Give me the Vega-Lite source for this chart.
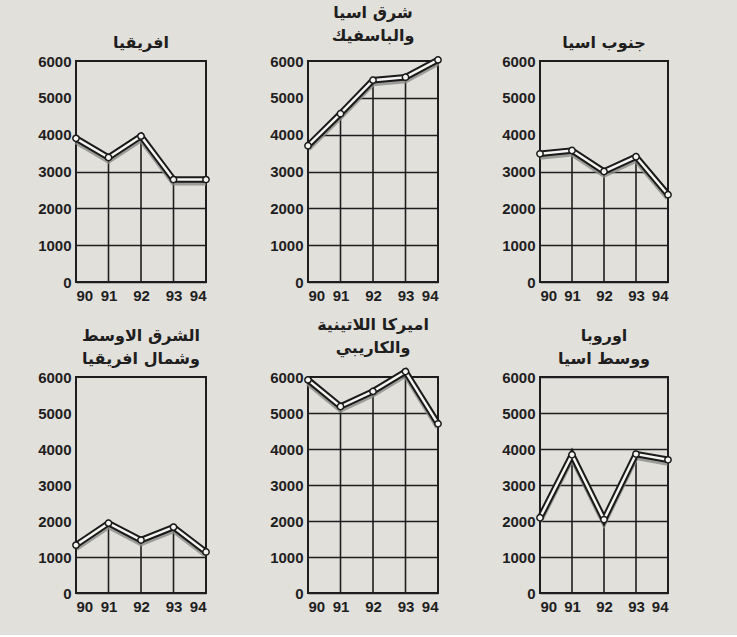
{
  "$schema": "https://vega.github.io/schema/vega-lite/v6.json",
  "background": "#e2e0db",
  "padding": {"left": 37, "top": 4, "right": 58, "bottom": 21},
  "config": {
    "view": {"stroke": null},
    "font": "Liberation Sans",
    "axis": {"labelFont": "Liberation Sans", "labelFontSize": 15, "labelFontWeight": "bold", "labelColor": "#1e1e1e", "ticks": false, "domain": false, "title": null},
    "title": {"font": "DejaVu Sans", "fontSize": 16, "fontWeight": "bold", "color": "#1e1e1e", "anchor": "middle", "offset": 3, "lineHeight": 23}
  },
  "datasets": {
    "d": [
      {"region": "africa", "year": 90, "value": 3900},
      {"region": "africa", "year": 91, "value": 3380},
      {"region": "africa", "year": 92, "value": 3960},
      {"region": "africa", "year": 93, "value": 2780},
      {"region": "africa", "year": 94, "value": 2780},
      {"region": "eap", "year": 90, "value": 3700},
      {"region": "eap", "year": 91, "value": 4570},
      {"region": "eap", "year": 92, "value": 5480},
      {"region": "eap", "year": 93, "value": 5560},
      {"region": "eap", "year": 94, "value": 6030},
      {"region": "sa", "year": 90, "value": 3480},
      {"region": "sa", "year": 91, "value": 3570},
      {"region": "sa", "year": 92, "value": 3000},
      {"region": "sa", "year": 93, "value": 3400},
      {"region": "sa", "year": 94, "value": 2370},
      {"region": "mena", "year": 90, "value": 1330},
      {"region": "mena", "year": 91, "value": 1940},
      {"region": "mena", "year": 92, "value": 1470},
      {"region": "mena", "year": 93, "value": 1830},
      {"region": "mena", "year": 94, "value": 1140},
      {"region": "lac", "year": 90, "value": 5920},
      {"region": "lac", "year": 91, "value": 5180},
      {"region": "lac", "year": 92, "value": 5600},
      {"region": "lac", "year": 93, "value": 6150},
      {"region": "lac", "year": 94, "value": 4700},
      {"region": "eca", "year": 90, "value": 2090},
      {"region": "eca", "year": 91, "value": 3840},
      {"region": "eca", "year": 92, "value": 2040},
      {"region": "eca", "year": 93, "value": 3860},
      {"region": "eca", "year": 94, "value": 3700}
    ]
  },
  "columns": 3,
  "bounds": "flush",
  "spacing": {"row": 95, "column": 102},
  "concat": [
    {
      "title": {"text": "افريقيا"},
      "width": 130, "height": 221,
      "data": {"name": "d"},
      "transform": [{"filter": "datum.region === 'africa'"}],
      "encoding": {
        "x": {"field": "year", "type": "quantitative", "scale": {"domain": [90, 94]}, "axis": {"values": [90, 91, 92, 93, 94], "format": "d", "grid": false, "labelPadding": 6}},
        "y": {"field": "value", "type": "quantitative", "scale": {"domain": [0, 6000]}, "axis": {"values": [0, 1000, 2000, 3000, 4000, 5000, 6000], "format": "d", "grid": true, "gridColor": "#1e1e1e", "gridWidth": 1.5, "labelPadding": 5}}
      },
      "layer": [
        {"mark": {"type": "area", "fill": "#e2e0db"}, "encoding": {"y2": {"datum": 6000}}},
        {"mark": {"type": "rule", "color": "#1e1e1e", "strokeWidth": 1.6}, "encoding": {"y": {"datum": 0}, "y2": {"field": "value"}}},
        {"mark": {"type": "rect", "fill": null, "stroke": "#1e1e1e", "strokeWidth": 1.6}, "encoding": {"x": {"datum": 90}, "x2": {"datum": 94}, "y": {"datum": 0}, "y2": {"datum": 6000}}},
        {"mark": {"type": "line", "color": "#8a8a86", "strokeWidth": 6, "yOffset": 3, "opacity": 0.8}},
        {"mark": {"type": "line", "color": "#1a1a1a", "strokeWidth": 6.5}},
        {"mark": {"type": "line", "color": "#f4f4f1", "strokeWidth": 2.5}},
        {"mark": {"type": "point", "filled": true, "fill": "#f4f4f1", "stroke": "#1a1a1a", "strokeWidth": 1.5, "size": 40, "opacity": 1}}
      ]
    },
    {
      "title": {"text": ["شرق اسيا", "والباسفيك"]},
      "width": 130, "height": 221,
      "data": {"name": "d"},
      "transform": [{"filter": "datum.region === 'eap'"}],
      "encoding": {
        "x": {"field": "year", "type": "quantitative", "scale": {"domain": [90, 94]}, "axis": {"values": [90, 91, 92, 93, 94], "format": "d", "grid": false, "labelPadding": 6}},
        "y": {"field": "value", "type": "quantitative", "scale": {"domain": [0, 6000]}, "axis": {"values": [0, 1000, 2000, 3000, 4000, 5000, 6000], "format": "d", "grid": true, "gridColor": "#1e1e1e", "gridWidth": 1.5, "labelPadding": 5}}
      },
      "layer": [
        {"mark": {"type": "area", "fill": "#e2e0db"}, "encoding": {"y2": {"datum": 6000}}},
        {"mark": {"type": "rule", "color": "#1e1e1e", "strokeWidth": 1.6}, "encoding": {"y": {"datum": 0}, "y2": {"field": "value"}}},
        {"mark": {"type": "rect", "fill": null, "stroke": "#1e1e1e", "strokeWidth": 1.6}, "encoding": {"x": {"datum": 90}, "x2": {"datum": 94}, "y": {"datum": 0}, "y2": {"datum": 6000}}},
        {"mark": {"type": "line", "color": "#8a8a86", "strokeWidth": 6, "yOffset": 3, "opacity": 0.8}},
        {"mark": {"type": "line", "color": "#1a1a1a", "strokeWidth": 6.5}},
        {"mark": {"type": "line", "color": "#f4f4f1", "strokeWidth": 2.5}},
        {"mark": {"type": "point", "filled": true, "fill": "#f4f4f1", "stroke": "#1a1a1a", "strokeWidth": 1.5, "size": 40, "opacity": 1}}
      ]
    },
    {
      "title": {"text": "جنوب اسيا"},
      "width": 128, "height": 221,
      "data": {"name": "d"},
      "transform": [{"filter": "datum.region === 'sa'"}],
      "encoding": {
        "x": {"field": "year", "type": "quantitative", "scale": {"domain": [90, 94]}, "axis": {"values": [90, 91, 92, 93, 94], "format": "d", "grid": false, "labelPadding": 6}},
        "y": {"field": "value", "type": "quantitative", "scale": {"domain": [0, 6000]}, "axis": {"values": [0, 1000, 2000, 3000, 4000, 5000, 6000], "format": "d", "grid": true, "gridColor": "#1e1e1e", "gridWidth": 1.5, "labelPadding": 5}}
      },
      "layer": [
        {"mark": {"type": "area", "fill": "#e2e0db"}, "encoding": {"y2": {"datum": 6000}}},
        {"mark": {"type": "rule", "color": "#1e1e1e", "strokeWidth": 1.6}, "encoding": {"y": {"datum": 0}, "y2": {"field": "value"}}},
        {"mark": {"type": "rect", "fill": null, "stroke": "#1e1e1e", "strokeWidth": 1.6}, "encoding": {"x": {"datum": 90}, "x2": {"datum": 94}, "y": {"datum": 0}, "y2": {"datum": 6000}}},
        {"mark": {"type": "line", "color": "#8a8a86", "strokeWidth": 6, "yOffset": 3, "opacity": 0.8}},
        {"mark": {"type": "line", "color": "#1a1a1a", "strokeWidth": 6.5}},
        {"mark": {"type": "line", "color": "#f4f4f1", "strokeWidth": 2.5}},
        {"mark": {"type": "point", "filled": true, "fill": "#f4f4f1", "stroke": "#1a1a1a", "strokeWidth": 1.5, "size": 40, "opacity": 1}}
      ]
    },
    {
      "title": {"text": ["الشرق الاوسط", "وشمال افريقيا"]},
      "width": 130, "height": 216,
      "data": {"name": "d"},
      "transform": [{"filter": "datum.region === 'mena'"}],
      "encoding": {
        "x": {"field": "year", "type": "quantitative", "scale": {"domain": [90, 94]}, "axis": {"values": [90, 91, 92, 93, 94], "format": "d", "grid": false, "labelPadding": 6}},
        "y": {"field": "value", "type": "quantitative", "scale": {"domain": [0, 6000]}, "axis": {"values": [0, 1000, 2000, 3000, 4000, 5000, 6000], "format": "d", "grid": true, "gridColor": "#1e1e1e", "gridWidth": 1.5, "labelPadding": 5}}
      },
      "layer": [
        {"mark": {"type": "area", "fill": "#e2e0db"}, "encoding": {"y2": {"datum": 6000}}},
        {"mark": {"type": "rule", "color": "#1e1e1e", "strokeWidth": 1.6}, "encoding": {"y": {"datum": 0}, "y2": {"field": "value"}}},
        {"mark": {"type": "rect", "fill": null, "stroke": "#1e1e1e", "strokeWidth": 1.6}, "encoding": {"x": {"datum": 90}, "x2": {"datum": 94}, "y": {"datum": 0}, "y2": {"datum": 6000}}},
        {"mark": {"type": "line", "color": "#8a8a86", "strokeWidth": 6, "yOffset": 3, "opacity": 0.8}},
        {"mark": {"type": "line", "color": "#1a1a1a", "strokeWidth": 6.5}},
        {"mark": {"type": "line", "color": "#f4f4f1", "strokeWidth": 2.5}},
        {"mark": {"type": "point", "filled": true, "fill": "#f4f4f1", "stroke": "#1a1a1a", "strokeWidth": 1.5, "size": 40, "opacity": 1}}
      ]
    },
    {
      "title": {"text": ["اميركا اللاتينية", "والكاريبي"]},
      "width": 130, "height": 216,
      "data": {"name": "d"},
      "transform": [{"filter": "datum.region === 'lac'"}],
      "encoding": {
        "x": {"field": "year", "type": "quantitative", "scale": {"domain": [90, 94]}, "axis": {"values": [90, 91, 92, 93, 94], "format": "d", "grid": false, "labelPadding": 6}},
        "y": {"field": "value", "type": "quantitative", "scale": {"domain": [0, 6000]}, "axis": {"values": [0, 1000, 2000, 3000, 4000, 5000, 6000], "format": "d", "grid": true, "gridColor": "#1e1e1e", "gridWidth": 1.5, "labelPadding": 5}}
      },
      "layer": [
        {"mark": {"type": "area", "fill": "#e2e0db"}, "encoding": {"y2": {"datum": 6000}}},
        {"mark": {"type": "rule", "color": "#1e1e1e", "strokeWidth": 1.6}, "encoding": {"y": {"datum": 0}, "y2": {"field": "value"}}},
        {"mark": {"type": "rect", "fill": null, "stroke": "#1e1e1e", "strokeWidth": 1.6}, "encoding": {"x": {"datum": 90}, "x2": {"datum": 94}, "y": {"datum": 0}, "y2": {"datum": 6000}}},
        {"mark": {"type": "line", "color": "#8a8a86", "strokeWidth": 6, "yOffset": 3, "opacity": 0.8}},
        {"mark": {"type": "line", "color": "#1a1a1a", "strokeWidth": 6.5}},
        {"mark": {"type": "line", "color": "#f4f4f1", "strokeWidth": 2.5}},
        {"mark": {"type": "point", "filled": true, "fill": "#f4f4f1", "stroke": "#1a1a1a", "strokeWidth": 1.5, "size": 40, "opacity": 1}}
      ]
    },
    {
      "title": {"text": ["اوروبا", "ووسط اسيا"]},
      "width": 128, "height": 216,
      "data": {"name": "d"},
      "transform": [{"filter": "datum.region === 'eca'"}],
      "encoding": {
        "x": {"field": "year", "type": "quantitative", "scale": {"domain": [90, 94]}, "axis": {"values": [90, 91, 92, 93, 94], "format": "d", "grid": false, "labelPadding": 6}},
        "y": {"field": "value", "type": "quantitative", "scale": {"domain": [0, 6000]}, "axis": {"values": [0, 1000, 2000, 3000, 4000, 5000, 6000], "format": "d", "grid": true, "gridColor": "#1e1e1e", "gridWidth": 1.5, "labelPadding": 5}}
      },
      "layer": [
        {"mark": {"type": "rule", "color": "#1e1e1e", "strokeWidth": 1.6}, "encoding": {"y": {"datum": 0}, "y2": {"field": "value"}}},
        {"mark": {"type": "rect", "fill": null, "stroke": "#1e1e1e", "strokeWidth": 1.6}, "encoding": {"x": {"datum": 90}, "x2": {"datum": 94}, "y": {"datum": 0}, "y2": {"datum": 6000}}},
        {"mark": {"type": "line", "color": "#8a8a86", "strokeWidth": 6, "yOffset": 3, "opacity": 0.8}},
        {"mark": {"type": "line", "color": "#1a1a1a", "strokeWidth": 6.5}},
        {"mark": {"type": "line", "color": "#f4f4f1", "strokeWidth": 2.5}},
        {"mark": {"type": "point", "filled": true, "fill": "#f4f4f1", "stroke": "#1a1a1a", "strokeWidth": 1.5, "size": 40, "opacity": 1}}
      ]
    }
  ]
}
